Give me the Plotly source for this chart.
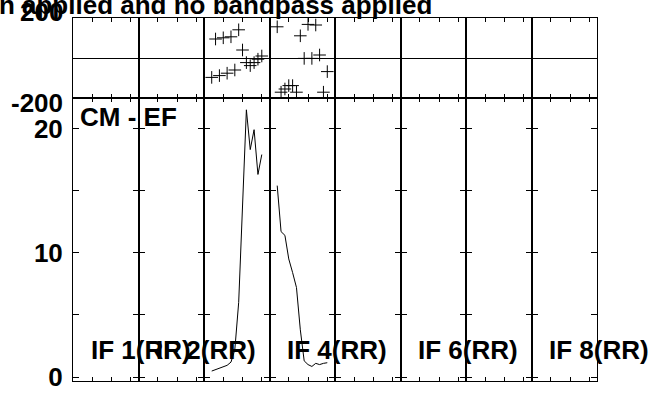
import plotly.graph_objects as go
from plotly.subplots import make_subplots

# ---- data ----
channels = list(range(2, 16))
if3_amp = [0.48, 0.58, 0.68, 0.8, 0.94, 1.2, 2.2, 6.0, 14.2, 21.5, 18.3, 19.9, 16.3, 17.9]
if4_amp = [15.4, 11.7, 11.4, 9.5, 8.4, 7.2, 3.8, 1.3, 1.0, 0.85, 1.1, 1.0, 1.1, 1.15]
if3_phase = [-97, 95, -88, 101, -76, 106, -60, 141, 40, -23, -38, -23, -6, 10]
if4_phase = [156, -171, -155, -138, -138, -171, 111, -2, 168, -2, 165, 15, -171, -68]
amp_ticks = [0, 5, 10, 15, 20]
amp_ticktext = ["0", "", "10", "", "20"]
chan_ticks = [5, 10, 15]
phase_labels = ["200", "-200"]
phase_label_vals = [200, -200]
if_labels = {1: "IF 1(RR)", 2: "IF 2(RR)", 4: "IF 4(RR)", 6: "IF 6(RR)", 8: "IF 8(RR)"}
baseline_label = "CM - EF"
title_text = "Calibration applied and no bandpass applied"

NP = 8
FONT = "Liberation Sans"
FS = 26
fig = make_subplots(rows=2, cols=NP, horizontal_spacing=0, vertical_spacing=0,
                    row_heights=[80, 283], shared_xaxes=False)

# placeholder (empty) traces so every panel gets its frame drawn
for r in (1, 2):
    for c in range(1, NP + 1):
        fig.add_trace(go.Scatter(x=[None], y=[None], mode="lines", showlegend=False,
                                 hoverinfo="skip"), row=r, col=c)

series = {3: (if3_amp, if3_phase), 4: (if4_amp, if4_phase)}
for col, (amp, ph) in series.items():
    fig.add_trace(go.Scatter(x=channels, y=ph, mode="markers",
                             marker=dict(symbol="cross-thin", size=9, color="black",
                                         line=dict(color="black", width=1)),
                             showlegend=False), row=1, col=col)
    fig.add_trace(go.Scatter(x=channels, y=amp, mode="lines",
                             line=dict(color="black", width=1), showlegend=False),
                  row=2, col=col)

axis_common = dict(showline=True, linecolor="black", linewidth=1, mirror="ticks",
                   ticks="inside", tickcolor="black", tickwidth=1, showgrid=False,
                   automargin=False)
for r in (1, 2):
    for c in range(1, NP + 1):
        fig.update_xaxes(row=r, col=c, range=[0, 17], tickvals=chan_ticks, ticklen=4,
                         showticklabels=False, zeroline=False, **axis_common)
        if r == 1:
            fig.update_yaxes(row=r, col=c, range=[-200, 200], tickvals=[], ticklen=0,
                             showticklabels=False, zeroline=True, zerolinecolor="black",
                             zerolinewidth=1, **axis_common)
        else:
            fig.update_yaxes(row=r, col=c, range=[-0.32, 22.45], tickvals=amp_ticks,
                             ticktext=amp_ticktext, ticklen=6, zeroline=False,
                             showticklabels=(c == 1), ticklabelstandoff=4,
                             tickfont=dict(family=FONT, size=FS, color="black", weight="bold"),
                             **axis_common)

bold = dict(family=FONT, size=FS, color="black", weight="bold")
annotations = []
for txt, val, shift in zip(phase_labels, phase_label_vals, [6, -5]):
    annotations.append(dict(text=txt, xref="paper", x=0, xanchor="right", xshift=-8,
                            yref="y", y=val, yanchor="middle", yshift=shift,
                            showarrow=False, font=bold))
for c, txt in if_labels.items():
    annotations.append(dict(text=txt, xref=f"x{NP + c}", x=4.1, xanchor="left",
                            yref=f"y{NP + c}", y=2.17, yanchor="middle",
                            showarrow=False, font=bold))
annotations.append(dict(text=baseline_label, xref=f"x{NP + 1}", x=1.4, xanchor="left",
                        yref=f"y{NP + 1}", y=20.9, yanchor="middle", showarrow=False, font=bold))
annotations.append(dict(text=title_text, xref="paper", x=0.689, xanchor="right",
                        yref="paper", y=1.036, yanchor="middle", showarrow=False, font=bold))
fig.update_layout(annotations=annotations)

fig.update_layout(width=652, height=393, margin=dict(l=73, r=55, t=18, b=12),
                  paper_bgcolor="white", plot_bgcolor="white", showlegend=False)
fig.write_html("out.html", config={"displayModeBar": False},
               post_script="document.body.style.margin='0';document.body.style.overflow='hidden';")
